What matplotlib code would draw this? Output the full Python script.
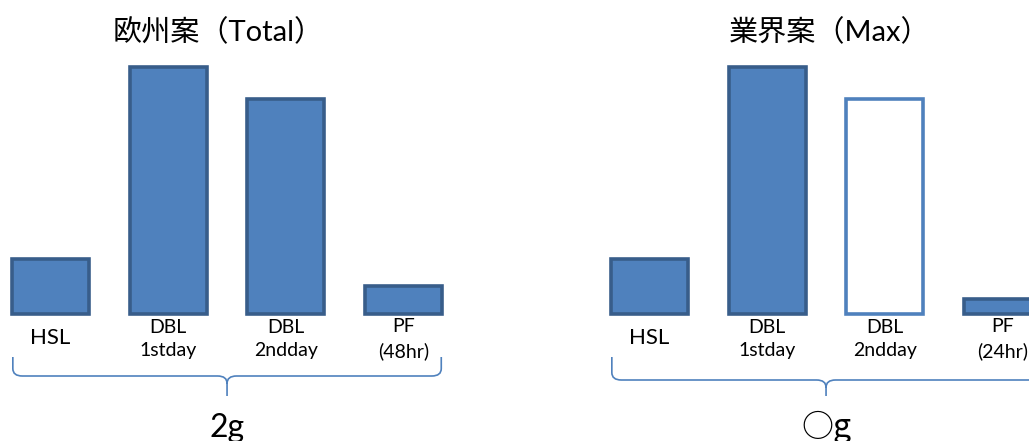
"""Two bar panels: EU proposal vs industry proposal."""
import matplotlib
matplotlib.use("Agg")
import matplotlib.pyplot as plt
from matplotlib.path import Path
from matplotlib.patches import PathPatch

FONT = ["Lato", "Noto Sans CJK JP", "DejaVu Sans"]
plt.rcParams["font.family"] = FONT

FILL = "#4F81BD"
EDGE = "#385D8A"

# --- data ---
left_title = "欧州案（Total）"
right_title = "業界案（Max）"
left_labels = ["HSL", "DBL\n1stday", "DBL\n2ndday", "PF\n(48hr)"]
right_labels = ["HSL", "DBL\n1stday", "DBL\n2ndday", "PF\n(24hr)"]
left_values = [22.3, 100, 87, 11.3]
right_values = [22.3, 100, 87, 6.1]
right_hollow = [False, False, True, False]
left_total = "2g"
right_total = "○g"

W, H = 1029, 441
fig = plt.figure(figsize=(W / 100, H / 100), dpi=100)

STEP = 117.7      # px between bar centres
FIRST = 50.5      # px, centre of first bar in a panel
BASE = 314        # px from top, bar baseline
FULL = 247        # px height of value 100


def brace(ax, x0, x1, xc, y_top, y_mid, y_tip):
    rx, ry = 0.08, 3.0
    verts = [(x0, y_top), (x0, y_mid + ry), (x0, y_mid), (x0 + rx, y_mid),
             (xc - rx, y_mid), (xc, y_mid), (xc, y_mid - ry), (xc, y_tip),
             (xc, y_mid - ry), (xc, y_mid), (xc + rx, y_mid),
             (x1 - rx, y_mid), (x1, y_mid), (x1, y_mid + ry), (x1, y_top)]
    codes = [Path.MOVETO, Path.LINETO, Path.CURVE3, Path.CURVE3,
             Path.LINETO, Path.CURVE3, Path.CURVE3, Path.LINETO,
             Path.MOVETO, Path.CURVE3, Path.CURVE3,
             Path.LINETO, Path.CURVE3, Path.CURVE3, Path.LINETO]
    ax.add_patch(PathPatch(Path(verts, codes), fill=False, edgecolor=FILL,
                           lw=1.2, clip_on=False))


def panel(offset, labels, values, hollow, title, total, title_dx, mid_y):
    left_px = offset
    width_px = 4 * STEP
    ax = fig.add_axes([left_px / W, (H - BASE) / H, width_px / W, FULL / H])
    x0 = -FIRST / STEP
    ax.set_xlim(x0, x0 + 4)
    ax.set_ylim(0, 100)
    ax.axis("off")
    xs = range(len(values))
    faces = ["white" if h else FILL for h in hollow]
    edges = [FILL if h else EDGE for h in hollow]
    ax.bar(xs, values, width=77 / STEP, color=faces, edgecolor=edges,
           linewidth=2.6, clip_on=False)
    px = 100 / FULL  # data units per pixel
    for x, lab in zip(xs, labels):
        if "\n" in lab:
            ax.text(x, -25 * px, lab, ha="center", va="center", fontsize=14,
                    linespacing=1.45, clip_on=False)
        else:
            ax.text(x, -24 * px, lab, ha="center", va="center", fontsize=16,
                    clip_on=False)
    brace(ax, -0.32, 3.32, 1.5, -43 * px, -mid_y * px, -82 * px)
    fig.text((offset + title_dx) / W, 1 - 32 / H, title, ha="center",
             va="center", fontsize=21)
    fig.text((offset + FIRST + 1.5 * STEP) / W, 4 / H, total, ha="center",
             va="baseline", fontsize=23,
             family=["Noto Sans CJK JP", "Lato"] if "○" in total else FONT)
    return ax


panel(0, left_labels, left_values, [False] * 4, left_title, left_total,
      218, 62)
panel(599, right_labels, right_values, right_hollow, right_title,
      right_total, 231, 66)

fig.savefig("out.png", dpi=100)
